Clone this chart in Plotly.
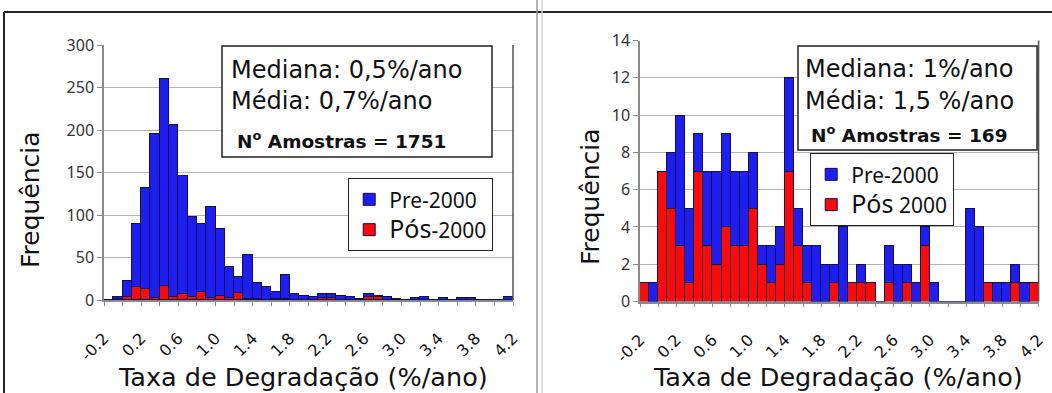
import plotly.graph_objects as go

W, H = 1052, 393

# Bin left edges: -0.2 .. 4.1 in steps of 0.1 (44 bins of 0.1 %/ano)
bin_width = 0.1
bin_centers = [round(-0.15 + 0.1 * i, 2) for i in range(44)]

# Left panel (all samples): total counts and post-2000 counts per bin
left_total = [0, 3, 22, 90, 132, 195, 260, 206, 146, 98, 90, 110, 83, 39, 27, 53,
              20, 15, 9, 29, 7, 5, 4, 7, 7, 5, 3, 1, 7, 5, 3, 1, 0, 2, 3, 0,
              2, 0, 2, 2, 0, 0, 0, 3]
left_pos = [0, 1, 3, 15, 13, 2, 16, 3, 7, 3, 9, 2, 5, 2, 8, 1,
            1, 0, 1, 1, 0, 0, 0, 2, 2, 0, 0, 0, 4, 3, 0, 0, 0, 0, 0, 0,
            0, 0, 0, 0, 0, 0, 0, 0]

# Right panel (subset): total counts and post-2000 counts per bin
right_total = [1, 1, 7, 8, 10, 5, 9, 7, 7, 9, 7, 7, 8, 3, 3, 4,
               12, 5, 3, 3, 2, 2, 4, 1, 2, 1, 0, 3, 2, 2, 1, 4,
               1, 0, 0, 0, 5, 4, 1, 1, 1, 2, 1, 1]
right_pos = [1, 0, 7, 5, 3, 1, 7, 3, 2, 4, 3, 3, 5, 2, 1, 2,
             7, 3, 1, 0, 0, 1, 0, 1, 1, 1, 0, 1, 0, 1, 0, 3,
             0, 0, 0, 0, 0, 0, 1, 0, 0, 1, 0, 1]

left_pre = [t - p for t, p in zip(left_total, left_pos)]
right_pre = [t - p for t, p in zip(right_total, right_pos)]

x_tickvals = [-0.2, 0.2, 0.6, 1.0, 1.4, 1.8, 2.2, 2.6, 3.0, 3.4, 3.8, 4.2]
x_ticktext = ["-0.2", "0.2", "0.6", "1.0", "1.4", "1.8", "2.2", "2.6", "3.0", "3.4", "3.8", "4.2"]

left_stats = ["Mediana: 0,5%/ano", "Média: 0,7%/ano", "N<sup>o</sup> Amostras = 1751"]
right_stats = ["Mediana: 1%/ano", "Média: 1,5 %/ano", "N<sup>o</sup> Amostras = 169"]

BLUE = "#1e1ef2"
RED = "#ff0808"
EDGE = "#10104a"
FONT = "DejaVu Sans"


def px(x):
    return x / W


def py(y):
    return 1 - y / H


fig = go.Figure()

# Left histogram (stacked: post-2000 at the bottom, pre-2000 on top)
fig.add_trace(go.Bar(x=bin_centers, y=left_pos, width=bin_width,
                     name="<span style='font-size:25px'>Pós</span>-2000", legendrank=2,
                     marker=dict(color=RED, line=dict(color=EDGE, width=1)),
                     xaxis="x", yaxis="y", legend="legend"))
fig.add_trace(go.Bar(x=bin_centers, y=left_pre, width=bin_width, name="Pre-2000", legendrank=1,
                     marker=dict(color=BLUE, line=dict(color=EDGE, width=1)),
                     xaxis="x", yaxis="y", legend="legend"))

# Right histogram
fig.add_trace(go.Bar(x=bin_centers, y=right_pos, width=bin_width,
                     name="<span style='font-size:25px'>Pós</span> 2000", legendrank=2,
                     marker=dict(color=RED, line=dict(color=EDGE, width=1)),
                     xaxis="x2", yaxis="y2", legend="legend2"))
fig.add_trace(go.Bar(x=bin_centers, y=right_pre, width=bin_width, name="Pre-2000", legendrank=1,
                     marker=dict(color=BLUE, line=dict(color=EDGE, width=1)),
                     xaxis="x2", yaxis="y2", legend="legend2"))

xaxis_common = dict(
    range=[-0.2, 4.2], tickvals=x_tickvals, ticktext=x_ticktext, tickangle=-45,
    tickfont=dict(family=FONT, size=16, color="#111"), ticklabelstandoff=17,
    ticks="outside", ticklen=4, tickcolor="#8a8a8a",
    minor=dict(dtick=0.2, tick0=-0.2, ticks="outside", ticklen=4, tickcolor="#8a8a8a"),
    showline=True, linecolor="#8a8a8a", linewidth=1.5, mirror=False,
    showgrid=False, zeroline=False, fixedrange=True, automargin=False,
)
yaxis_common = dict(
    tickfont=dict(family="Noto Sans", size=16, color="#333"),
    ticks="outside", ticklen=5, tickcolor="#8a8a8a",
    showline=True, linecolor="#8a8a8a", linewidth=1.5,
    showgrid=True, gridcolor="#b4b4b4", gridwidth=1.2, zeroline=False, automargin=False,
)

legend_common = dict(xanchor="left", yanchor="top", traceorder="normal",
                     bgcolor="white", bordercolor="#222", borderwidth=1.2,
                     font=dict(family="Noto Sans", size=21, color="#111"), itemwidth=30)

fig.update_layout(
    width=W, height=H, margin=dict(l=0, r=0, t=0, b=0, autoexpand=False),
    paper_bgcolor="white", plot_bgcolor="white",
    barmode="stack", bargap=0, showlegend=True,
    xaxis=dict(domain=[px(104), px(513)], anchor="y", **xaxis_common),
    yaxis=dict(domain=[py(300), py(45)], anchor="x", range=[0, 300], dtick=50, **yaxis_common),
    xaxis2=dict(domain=[px(640), px(1038.6)], anchor="y2", **xaxis_common),
    yaxis2=dict(domain=[py(301.5), py(40.5)], anchor="x2", range=[0, 14], dtick=2, **yaxis_common),
    legend=dict(x=px(348), y=py(178), **legend_common),
    legend2=dict(x=px(810), y=py(153), **legend_common),
)

shapes = [
    # Outer frame and panel separator
    dict(type="line", xref="paper", yref="paper", x0=px(4), x1=1, y0=py(12), y1=py(12),
         line=dict(color="#222", width=2)),
    dict(type="line", xref="paper", yref="paper", x0=px(4), x1=px(4), y0=py(12), y1=0,
         line=dict(color="#222", width=2)),
    dict(type="line", xref="paper", yref="paper", x0=px(537), x1=px(537), y0=0, y1=1,
         line=dict(color="#9a9a9a", width=1.5)),
    dict(type="line", xref="paper", yref="paper", x0=px(542), x1=px(542), y0=0, y1=1,
         line=dict(color="#d0d0d0", width=1.5)),
    # Right borders of both plot areas
    dict(type="line", xref="paper", yref="paper", x0=px(513), x1=px(513), y0=py(300), y1=py(45),
         line=dict(color="#555", width=1.5)),
    dict(type="line", xref="paper", yref="paper", x0=px(1038.6), x1=px(1038.6), y0=py(301.5), y1=py(40.5),
         line=dict(color="#555", width=1.5)),
    # Statistics boxes
    dict(type="rect", xref="paper", yref="paper", x0=px(222), x1=px(492), y0=py(157), y1=py(46),
         fillcolor="white", line=dict(color="#222", width=1.5), layer="above"),
    dict(type="rect", xref="paper", yref="paper", x0=px(798), x1=px(1037), y0=py(150), y1=py(46),
         fillcolor="white", line=dict(color="#222", width=1.5), layer="above"),
]
fig.update_layout(shapes=shapes)

annotations = []
for (xl, ys, stats) in [(229, [70, 101, 140], left_stats),
                        (803, [69, 101, 134], right_stats)]:
    for i, (y, t) in enumerate(zip(ys, stats)):
        if i < 2:
            font = dict(family=FONT, size=24, color="#111")
            text = t
        else:
            font = dict(family=FONT, size=18.5, color="#111")
            text = "<b>" + t + "</b>"
        annotations.append(dict(xref="paper", yref="paper", x=px(xl + (6 if i == 2 else 0)), y=py(y),
                                xanchor="left", yanchor="middle", text=text, showarrow=False, font=font))

# Axis titles
for xc in (303, 838):
    annotations.append(dict(xref="paper", yref="paper", x=px(xc), y=py(377), xanchor="center", yanchor="middle",
                            text="Taxa de Degradação (%/ano)", showarrow=False,
                            font=dict(family=FONT, size=25.5, color="#111")))
for xc, yc in ((30, 200), (590, 197)):
    annotations.append(dict(xref="paper", yref="paper", x=px(xc), y=py(yc), xanchor="center", yanchor="middle",
                            text="Frequência", textangle=-90, showarrow=False,
                            font=dict(family=FONT, size=25, color="#111")))
fig.update_layout(annotations=annotations)

fig.write_html("out.html")
